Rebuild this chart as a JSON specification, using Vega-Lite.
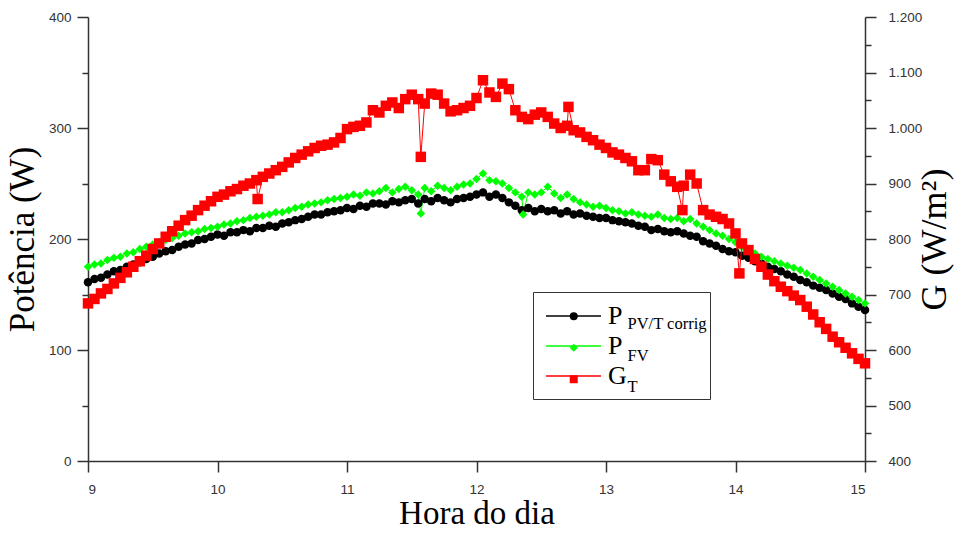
{
  "$schema": "https://vega.github.io/schema/vega-lite/v6.json",
  "width": 777,
  "height": 444,
  "autosize": {"type": "none"},
  "padding": {"left": 88, "top": 17, "right": 95, "bottom": 72},
  "background": "white",
  "config": {
    "view": {"stroke": null},
    "locale": {"number": {"decimal": ",", "thousands": ".", "grouping": [3], "currency": ["", ""]}},
    "axis": {
      "labelFont": "Liberation Sans", "labelFontSize": 13.5, "labelColor": "#333333",
      "domainColor": "#333333", "tickColor": "#333333", "domainWidth": 1.5, "tickWidth": 1.5,
      "grid": false, "titleFont": "Liberation Serif", "titleFontSize": 35,
      "titleFontWeight": "normal", "titleColor": "#000000"
    }
  },
  "data": {"values": [
    {"t":9.00,"s":"PPV","v":161},{"t":9.05,"s":"PPV","v":164},{"t":9.10,"s":"PPV","v":165},{"t":9.15,"s":"PPV","v":168},{"t":9.20,"s":"PPV","v":171},
    {"t":9.25,"s":"PPV","v":172},{"t":9.30,"s":"PPV","v":175},{"t":9.35,"s":"PPV","v":177},{"t":9.40,"s":"PPV","v":179},{"t":9.45,"s":"PPV","v":182},
    {"t":9.50,"s":"PPV","v":184},{"t":9.55,"s":"PPV","v":187},{"t":9.60,"s":"PPV","v":189},{"t":9.65,"s":"PPV","v":190},{"t":9.70,"s":"PPV","v":193},
    {"t":9.75,"s":"PPV","v":195},{"t":9.80,"s":"PPV","v":196},{"t":9.85,"s":"PPV","v":199},{"t":9.90,"s":"PPV","v":200},{"t":9.95,"s":"PPV","v":202},
    {"t":10.00,"s":"PPV","v":204},{"t":10.05,"s":"PPV","v":203},{"t":10.10,"s":"PPV","v":206},{"t":10.15,"s":"PPV","v":206},{"t":10.20,"s":"PPV","v":208},
    {"t":10.25,"s":"PPV","v":207},{"t":10.30,"s":"PPV","v":210},{"t":10.35,"s":"PPV","v":210},{"t":10.40,"s":"PPV","v":212},{"t":10.45,"s":"PPV","v":211},
    {"t":10.50,"s":"PPV","v":214},{"t":10.55,"s":"PPV","v":215},{"t":10.60,"s":"PPV","v":217},{"t":10.65,"s":"PPV","v":218},{"t":10.70,"s":"PPV","v":220},
    {"t":10.75,"s":"PPV","v":222},{"t":10.80,"s":"PPV","v":222},{"t":10.85,"s":"PPV","v":224},{"t":10.90,"s":"PPV","v":225},{"t":10.95,"s":"PPV","v":226},
    {"t":11.00,"s":"PPV","v":228},{"t":11.05,"s":"PPV","v":227},{"t":11.10,"s":"PPV","v":230},{"t":11.15,"s":"PPV","v":229},{"t":11.20,"s":"PPV","v":232},
    {"t":11.25,"s":"PPV","v":232},{"t":11.30,"s":"PPV","v":231},{"t":11.35,"s":"PPV","v":234},{"t":11.40,"s":"PPV","v":233},{"t":11.45,"s":"PPV","v":235},
    {"t":11.50,"s":"PPV","v":236},{"t":11.55,"s":"PPV","v":232},{"t":11.60,"s":"PPV","v":236},{"t":11.65,"s":"PPV","v":234},{"t":11.70,"s":"PPV","v":237},
    {"t":11.75,"s":"PPV","v":235},{"t":11.80,"s":"PPV","v":233},{"t":11.85,"s":"PPV","v":236},{"t":11.90,"s":"PPV","v":237},{"t":11.95,"s":"PPV","v":238},
    {"t":12.00,"s":"PPV","v":240},{"t":12.05,"s":"PPV","v":242},{"t":12.10,"s":"PPV","v":238},{"t":12.15,"s":"PPV","v":240},{"t":12.20,"s":"PPV","v":237},
    {"t":12.25,"s":"PPV","v":233},{"t":12.30,"s":"PPV","v":230},{"t":12.35,"s":"PPV","v":226},{"t":12.40,"s":"PPV","v":228},{"t":12.45,"s":"PPV","v":225},
    {"t":12.50,"s":"PPV","v":227},{"t":12.55,"s":"PPV","v":225},{"t":12.60,"s":"PPV","v":226},{"t":12.65,"s":"PPV","v":223},{"t":12.70,"s":"PPV","v":225},
    {"t":12.75,"s":"PPV","v":222},{"t":12.80,"s":"PPV","v":223},{"t":12.85,"s":"PPV","v":221},{"t":12.90,"s":"PPV","v":220},{"t":12.95,"s":"PPV","v":219},
    {"t":13.00,"s":"PPV","v":219},{"t":13.05,"s":"PPV","v":217},{"t":13.10,"s":"PPV","v":216},{"t":13.15,"s":"PPV","v":215},{"t":13.20,"s":"PPV","v":214},
    {"t":13.25,"s":"PPV","v":212},{"t":13.30,"s":"PPV","v":211},{"t":13.35,"s":"PPV","v":208},{"t":13.40,"s":"PPV","v":209},{"t":13.45,"s":"PPV","v":207},
    {"t":13.50,"s":"PPV","v":206},{"t":13.55,"s":"PPV","v":207},{"t":13.60,"s":"PPV","v":205},{"t":13.65,"s":"PPV","v":203},{"t":13.70,"s":"PPV","v":202},
    {"t":13.75,"s":"PPV","v":198},{"t":13.80,"s":"PPV","v":196},{"t":13.85,"s":"PPV","v":194},{"t":13.90,"s":"PPV","v":191},{"t":13.95,"s":"PPV","v":189},
    {"t":14.00,"s":"PPV","v":188},{"t":14.05,"s":"PPV","v":185},{"t":14.10,"s":"PPV","v":183},{"t":14.15,"s":"PPV","v":180},{"t":14.20,"s":"PPV","v":178},
    {"t":14.25,"s":"PPV","v":175},{"t":14.30,"s":"PPV","v":173},{"t":14.35,"s":"PPV","v":171},{"t":14.40,"s":"PPV","v":168},{"t":14.45,"s":"PPV","v":166},
    {"t":14.50,"s":"PPV","v":163},{"t":14.55,"s":"PPV","v":161},{"t":14.60,"s":"PPV","v":158},{"t":14.65,"s":"PPV","v":156},{"t":14.70,"s":"PPV","v":154},
    {"t":14.75,"s":"PPV","v":151},{"t":14.80,"s":"PPV","v":148},{"t":14.85,"s":"PPV","v":146},{"t":14.90,"s":"PPV","v":142},{"t":14.95,"s":"PPV","v":139},
    {"t":15.00,"s":"PPV","v":136},

    {"t":9.00,"s":"PFV","v":175},{"t":9.05,"s":"PFV","v":177},{"t":9.10,"s":"PFV","v":178},{"t":9.15,"s":"PFV","v":181},{"t":9.20,"s":"PFV","v":183},
    {"t":9.25,"s":"PFV","v":184},{"t":9.30,"s":"PFV","v":187},{"t":9.35,"s":"PFV","v":188},{"t":9.40,"s":"PFV","v":191},{"t":9.45,"s":"PFV","v":193},
    {"t":9.50,"s":"PFV","v":195},{"t":9.55,"s":"PFV","v":197},{"t":9.60,"s":"PFV","v":199},{"t":9.65,"s":"PFV","v":201},{"t":9.70,"s":"PFV","v":203},
    {"t":9.75,"s":"PFV","v":205},{"t":9.80,"s":"PFV","v":206},{"t":9.85,"s":"PFV","v":207},{"t":9.90,"s":"PFV","v":209},{"t":9.95,"s":"PFV","v":210},
    {"t":10.00,"s":"PFV","v":211},{"t":10.05,"s":"PFV","v":213},{"t":10.10,"s":"PFV","v":214},{"t":10.15,"s":"PFV","v":216},{"t":10.20,"s":"PFV","v":217},
    {"t":10.25,"s":"PFV","v":219},{"t":10.30,"s":"PFV","v":220},{"t":10.35,"s":"PFV","v":221},{"t":10.40,"s":"PFV","v":222},{"t":10.45,"s":"PFV","v":224},
    {"t":10.50,"s":"PFV","v":224},{"t":10.55,"s":"PFV","v":226},{"t":10.60,"s":"PFV","v":228},{"t":10.65,"s":"PFV","v":229},{"t":10.70,"s":"PFV","v":231},
    {"t":10.75,"s":"PFV","v":232},{"t":10.80,"s":"PFV","v":233},{"t":10.85,"s":"PFV","v":235},{"t":10.90,"s":"PFV","v":236},{"t":10.95,"s":"PFV","v":237},
    {"t":11.00,"s":"PFV","v":238},{"t":11.05,"s":"PFV","v":240},{"t":11.10,"s":"PFV","v":239},{"t":11.15,"s":"PFV","v":242},{"t":11.20,"s":"PFV","v":241},
    {"t":11.25,"s":"PFV","v":243},{"t":11.30,"s":"PFV","v":246},{"t":11.35,"s":"PFV","v":242},{"t":11.40,"s":"PFV","v":245},{"t":11.45,"s":"PFV","v":247},
    {"t":11.50,"s":"PFV","v":244},{"t":11.55,"s":"PFV","v":240},{"t":11.57,"s":"PFV","v":223},{"t":11.60,"s":"PFV","v":246},{"t":11.65,"s":"PFV","v":243},
    {"t":11.70,"s":"PFV","v":248},{"t":11.75,"s":"PFV","v":246},{"t":11.80,"s":"PFV","v":244},{"t":11.85,"s":"PFV","v":247},{"t":11.90,"s":"PFV","v":249},
    {"t":11.95,"s":"PFV","v":250},{"t":12.00,"s":"PFV","v":254},{"t":12.05,"s":"PFV","v":259},{"t":12.10,"s":"PFV","v":253},{"t":12.15,"s":"PFV","v":252},
    {"t":12.20,"s":"PFV","v":250},{"t":12.25,"s":"PFV","v":246},{"t":12.30,"s":"PFV","v":242},{"t":12.35,"s":"PFV","v":238},{"t":12.36,"s":"PFV","v":222},
    {"t":12.40,"s":"PFV","v":242},{"t":12.45,"s":"PFV","v":240},{"t":12.50,"s":"PFV","v":242},{"t":12.55,"s":"PFV","v":247},{"t":12.60,"s":"PFV","v":241},
    {"t":12.65,"s":"PFV","v":237},{"t":12.70,"s":"PFV","v":240},{"t":12.75,"s":"PFV","v":236},{"t":12.80,"s":"PFV","v":233},{"t":12.85,"s":"PFV","v":231},
    {"t":12.90,"s":"PFV","v":229},{"t":12.95,"s":"PFV","v":230},{"t":13.00,"s":"PFV","v":228},{"t":13.05,"s":"PFV","v":226},{"t":13.10,"s":"PFV","v":225},
    {"t":13.15,"s":"PFV","v":223},{"t":13.20,"s":"PFV","v":224},{"t":13.25,"s":"PFV","v":222},{"t":13.30,"s":"PFV","v":221},{"t":13.35,"s":"PFV","v":220},
    {"t":13.40,"s":"PFV","v":222},{"t":13.45,"s":"PFV","v":219},{"t":13.50,"s":"PFV","v":218},{"t":13.55,"s":"PFV","v":219},{"t":13.60,"s":"PFV","v":216},
    {"t":13.65,"s":"PFV","v":218},{"t":13.70,"s":"PFV","v":214},{"t":13.75,"s":"PFV","v":211},{"t":13.80,"s":"PFV","v":208},{"t":13.85,"s":"PFV","v":205},
    {"t":13.90,"s":"PFV","v":203},{"t":13.95,"s":"PFV","v":200},{"t":14.00,"s":"PFV","v":197},{"t":14.05,"s":"PFV","v":193},{"t":14.10,"s":"PFV","v":190},
    {"t":14.15,"s":"PFV","v":187},{"t":14.20,"s":"PFV","v":184},{"t":14.25,"s":"PFV","v":182},{"t":14.30,"s":"PFV","v":180},{"t":14.35,"s":"PFV","v":178},
    {"t":14.40,"s":"PFV","v":176},{"t":14.45,"s":"PFV","v":174},{"t":14.50,"s":"PFV","v":172},{"t":14.55,"s":"PFV","v":169},{"t":14.60,"s":"PFV","v":166},
    {"t":14.65,"s":"PFV","v":163},{"t":14.70,"s":"PFV","v":160},{"t":14.75,"s":"PFV","v":157},{"t":14.80,"s":"PFV","v":154},{"t":14.85,"s":"PFV","v":151},
    {"t":14.90,"s":"PFV","v":148},{"t":14.95,"s":"PFV","v":145},{"t":15.00,"s":"PFV","v":142},

    {"t":9.00,"s":"GT","v":684},{"t":9.05,"s":"GT","v":692},{"t":9.10,"s":"GT","v":702},{"t":9.15,"s":"GT","v":710},{"t":9.20,"s":"GT","v":720},
    {"t":9.25,"s":"GT","v":730},{"t":9.30,"s":"GT","v":740},{"t":9.35,"s":"GT","v":750},{"t":9.40,"s":"GT","v":760},{"t":9.45,"s":"GT","v":770},
    {"t":9.50,"s":"GT","v":782},{"t":9.55,"s":"GT","v":792},{"t":9.60,"s":"GT","v":804},{"t":9.65,"s":"GT","v":814},{"t":9.70,"s":"GT","v":824},
    {"t":9.75,"s":"GT","v":834},{"t":9.80,"s":"GT","v":842},{"t":9.85,"s":"GT","v":852},{"t":9.90,"s":"GT","v":860},{"t":9.95,"s":"GT","v":868},
    {"t":10.00,"s":"GT","v":876},{"t":10.05,"s":"GT","v":880},{"t":10.10,"s":"GT","v":886},{"t":10.15,"s":"GT","v":890},{"t":10.20,"s":"GT","v":896},
    {"t":10.25,"s":"GT","v":900},{"t":10.30,"s":"GT","v":906},{"t":10.31,"s":"GT","v":872},{"t":10.35,"s":"GT","v":912},{"t":10.40,"s":"GT","v":918},
    {"t":10.45,"s":"GT","v":924},{"t":10.50,"s":"GT","v":930},{"t":10.55,"s":"GT","v":938},{"t":10.60,"s":"GT","v":946},{"t":10.65,"s":"GT","v":952},
    {"t":10.70,"s":"GT","v":958},{"t":10.75,"s":"GT","v":964},{"t":10.80,"s":"GT","v":968},{"t":10.85,"s":"GT","v":970},{"t":10.90,"s":"GT","v":974},
    {"t":10.95,"s":"GT","v":982},{"t":11.00,"s":"GT","v":998},{"t":11.05,"s":"GT","v":1002},{"t":11.10,"s":"GT","v":1004},{"t":11.15,"s":"GT","v":1010},
    {"t":11.20,"s":"GT","v":1032},{"t":11.25,"s":"GT","v":1028},{"t":11.30,"s":"GT","v":1040},{"t":11.35,"s":"GT","v":1046},{"t":11.40,"s":"GT","v":1036},
    {"t":11.45,"s":"GT","v":1052},{"t":11.50,"s":"GT","v":1060},{"t":11.55,"s":"GT","v":1052},{"t":11.57,"s":"GT","v":948},{"t":11.60,"s":"GT","v":1044},
    {"t":11.65,"s":"GT","v":1062},{"t":11.70,"s":"GT","v":1060},{"t":11.75,"s":"GT","v":1044},{"t":11.80,"s":"GT","v":1030},{"t":11.85,"s":"GT","v":1032},
    {"t":11.90,"s":"GT","v":1036},{"t":11.95,"s":"GT","v":1040},{"t":12.00,"s":"GT","v":1054},{"t":12.05,"s":"GT","v":1086},{"t":12.10,"s":"GT","v":1064},
    {"t":12.15,"s":"GT","v":1056},{"t":12.20,"s":"GT","v":1080},{"t":12.25,"s":"GT","v":1070},{"t":12.30,"s":"GT","v":1032},{"t":12.35,"s":"GT","v":1020},
    {"t":12.40,"s":"GT","v":1016},{"t":12.45,"s":"GT","v":1024},{"t":12.50,"s":"GT","v":1028},{"t":12.55,"s":"GT","v":1020},{"t":12.60,"s":"GT","v":1008},
    {"t":12.65,"s":"GT","v":1000},{"t":12.70,"s":"GT","v":1004},{"t":12.71,"s":"GT","v":1038},{"t":12.75,"s":"GT","v":996},{"t":12.80,"s":"GT","v":992},
    {"t":12.85,"s":"GT","v":984},{"t":12.90,"s":"GT","v":978},{"t":12.95,"s":"GT","v":970},{"t":13.00,"s":"GT","v":964},{"t":13.05,"s":"GT","v":956},
    {"t":13.10,"s":"GT","v":952},{"t":13.15,"s":"GT","v":946},{"t":13.20,"s":"GT","v":940},{"t":13.25,"s":"GT","v":924},{"t":13.30,"s":"GT","v":924},
    {"t":13.35,"s":"GT","v":944},{"t":13.40,"s":"GT","v":942},{"t":13.45,"s":"GT","v":916},{"t":13.50,"s":"GT","v":904},{"t":13.55,"s":"GT","v":894},
    {"t":13.59,"s":"GT","v":852},{"t":13.60,"s":"GT","v":896},{"t":13.65,"s":"GT","v":916},{"t":13.70,"s":"GT","v":900},{"t":13.75,"s":"GT","v":852},
    {"t":13.80,"s":"GT","v":844},{"t":13.85,"s":"GT","v":840},{"t":13.90,"s":"GT","v":836},{"t":13.95,"s":"GT","v":828},{"t":14.00,"s":"GT","v":810},
    {"t":14.03,"s":"GT","v":738},{"t":14.05,"s":"GT","v":792},{"t":14.10,"s":"GT","v":780},{"t":14.15,"s":"GT","v":764},{"t":14.20,"s":"GT","v":750},
    {"t":14.25,"s":"GT","v":736},{"t":14.30,"s":"GT","v":724},{"t":14.35,"s":"GT","v":714},{"t":14.40,"s":"GT","v":706},{"t":14.45,"s":"GT","v":698},
    {"t":14.50,"s":"GT","v":690},{"t":14.55,"s":"GT","v":678},{"t":14.60,"s":"GT","v":664},{"t":14.65,"s":"GT","v":650},{"t":14.70,"s":"GT","v":638},
    {"t":14.75,"s":"GT","v":624},{"t":14.80,"s":"GT","v":614},{"t":14.85,"s":"GT","v":604},{"t":14.90,"s":"GT","v":594},{"t":14.95,"s":"GT","v":584},
    {"t":15.00,"s":"GT","v":576}
  ]},
  "encoding": {
    "x": {
      "field": "t", "type": "quantitative",
      "scale": {"domain": [9, 15], "nice": false, "zero": false},
      "axis": {"values": [9, 10, 11, 12, 13, 14, 15], "title": "Hora do dia", "tickSize": 11, "labelPadding": 10, "titlePadding": 2, "titleFontSize": 33}
    }
  },
  "layer": [
    {
      "transform": [{"filter": "datum.s !== 'GT'"}],
      "encoding": {
        "y": {
          "field": "v", "type": "quantitative",
          "scale": {"domain": [0, 400], "nice": false},
          "axis": {
            "orient": "left", "title": "Potência (W)",
            "values": [0, 50, 100, 150, 200, 250, 300, 350, 400],
            "labelExpr": "datum.value % 100 === 0 ? datum.label : ''",
            "tickSize": {"condition": {"test": "datum.value % 100 === 0", "value": 11}, "value": 6},
            "labelPadding": 6, "titlePadding": 8
          }
        }
      },
      "layer": [
        {
          "mark": {"type": "line", "strokeWidth": 1},
          "encoding": {
            "stroke": {
              "field": "s", "type": "nominal",
              "scale": {"domain": ["GT", "PFV", "PPV"], "range": ["#ff0000", "#00ff00", "#000000"]},
              "legend": {
                "orient": "none", "legendX": 445, "legendY": 278, "values": ["PPV", "PFV", "GT"],
                "title": null, "symbolType": "M-5,0H5", "symbolSize": 121, "symbolStrokeWidth": 1.5, "symbolOffset": 19.5,
                "labelFont": "Liberation Serif", "labelFontSize": 26, "labelColor": "#000000", "labelOffset": 21.5,
                "labelExpr": "datum.value === 'GT' ? 'G' : 'P'",
                "rowPadding": 4, "padding": 8
              }
            }
          }
        },
        {
          "mark": {"type": "point", "filled": true, "size": 72, "strokeWidth": 0, "opacity": 1},
          "encoding": {
            "fill": {
              "field": "s", "type": "nominal",
              "scale": {"domain": ["PPV", "PFV", "GT"], "range": ["#000000", "#00ff00", "#ff0000"]},
              "legend": {
                "orient": "none", "legendX": 445, "legendY": 275, "title": "\u2800",
                "titleFontSize": 6, "titlePadding": 7,
                "symbolSize": 64, "symbolStrokeWidth": 0, "symbolOffset": 29.5,
                "labelFont": "Liberation Serif", "labelFontSize": 16.5, "labelColor": "#000000", "labelOffset": 45.5,
                "labelBaseline": "top",
                "labelExpr": "datum.value === 'PPV' ? 'PV/T corrig' : (datum.value === 'PFV' ? 'FV' : 'T')",
                "rowPadding": 6.5, "padding": 3, "strokeColor": "#333333"
              }
            },
            "shape": {
              "field": "s", "type": "nominal",
              "scale": {"domain": ["PPV", "PFV", "GT"], "range": ["circle", "diamond", "square"]},
              "legend": {
                "orient": "none", "legendX": 445, "legendY": 275, "title": "\u2800",
                "titleFontSize": 6, "titlePadding": 7,
                "symbolSize": 64, "symbolStrokeWidth": 0, "symbolOffset": 29.5,
                "labelFont": "Liberation Serif", "labelFontSize": 16.5, "labelColor": "#000000", "labelOffset": 45.5,
                "labelBaseline": "top",
                "labelExpr": "datum.value === 'PPV' ? 'PV/T corrig' : (datum.value === 'PFV' ? 'FV' : 'T')",
                "rowPadding": 6.5, "padding": 3, "strokeColor": "#333333"
              }
            }
          }
        }
      ]
    },
    {
      "transform": [{"filter": "datum.s === 'GT'"}],
      "encoding": {
        "y": {
          "field": "v", "type": "quantitative",
          "scale": {"domain": [400, 1200], "nice": false, "zero": false},
          "axis": {
            "orient": "right", "title": "G (W/m²)", "titleAngle": -90, "titleBaseline": "top", "titleFontSize": 36,
            "values": [400, 450, 500, 550, 600, 650, 700, 750, 800, 850, 900, 950, 1000, 1050, 1100, 1150, 1200],
            "format": ",d",
            "labelExpr": "datum.value % 100 === 0 ? datum.label : ''",
            "tickSize": {"condition": {"test": "datum.value % 100 === 0", "value": 11}, "value": 6},
            "labelPadding": 12, "titlePadding": -4
          }
        }
      },
      "layer": [
        {
          "mark": {"type": "line", "strokeWidth": 1},
          "encoding": {
            "stroke": {
              "field": "s", "type": "nominal",
              "scale": {"domain": ["GT", "PFV", "PPV"], "range": ["#ff0000", "#00ff00", "#000000"]},
              "legend": {
                "orient": "none", "legendX": 445, "legendY": 278, "values": ["PPV", "PFV", "GT"],
                "title": null, "symbolType": "M-5,0H5", "symbolSize": 121, "symbolStrokeWidth": 1.5, "symbolOffset": 19.5,
                "labelFont": "Liberation Serif", "labelFontSize": 26, "labelColor": "#000000", "labelOffset": 21.5,
                "labelExpr": "datum.value === 'GT' ? 'G' : 'P'",
                "rowPadding": 4, "padding": 8
              }
            }
          }
        },
        {
          "mark": {"type": "point", "filled": true, "size": 110, "strokeWidth": 0, "opacity": 1},
          "encoding": {
            "fill": {
              "field": "s", "type": "nominal",
              "scale": {"domain": ["PPV", "PFV", "GT"], "range": ["#000000", "#00ff00", "#ff0000"]},
              "legend": {
                "orient": "none", "legendX": 445, "legendY": 275, "title": "\u2800",
                "titleFontSize": 6, "titlePadding": 7,
                "symbolSize": 64, "symbolStrokeWidth": 0, "symbolOffset": 29.5,
                "labelFont": "Liberation Serif", "labelFontSize": 16.5, "labelColor": "#000000", "labelOffset": 45.5,
                "labelBaseline": "top",
                "labelExpr": "datum.value === 'PPV' ? 'PV/T corrig' : (datum.value === 'PFV' ? 'FV' : 'T')",
                "rowPadding": 6.5, "padding": 3, "strokeColor": "#333333"
              }
            },
            "shape": {
              "field": "s", "type": "nominal",
              "scale": {"domain": ["PPV", "PFV", "GT"], "range": ["circle", "diamond", "square"]},
              "legend": {
                "orient": "none", "legendX": 445, "legendY": 275, "title": "\u2800",
                "titleFontSize": 6, "titlePadding": 7,
                "symbolSize": 64, "symbolStrokeWidth": 0, "symbolOffset": 29.5,
                "labelFont": "Liberation Serif", "labelFontSize": 16.5, "labelColor": "#000000", "labelOffset": 45.5,
                "labelBaseline": "top",
                "labelExpr": "datum.value === 'PPV' ? 'PV/T corrig' : (datum.value === 'PFV' ? 'FV' : 'T')",
                "rowPadding": 6.5, "padding": 3, "strokeColor": "#333333"
              }
            }
          }
        }
      ]
    }
  ],
  "resolve": {"scale": {"y": "independent"}}
}
